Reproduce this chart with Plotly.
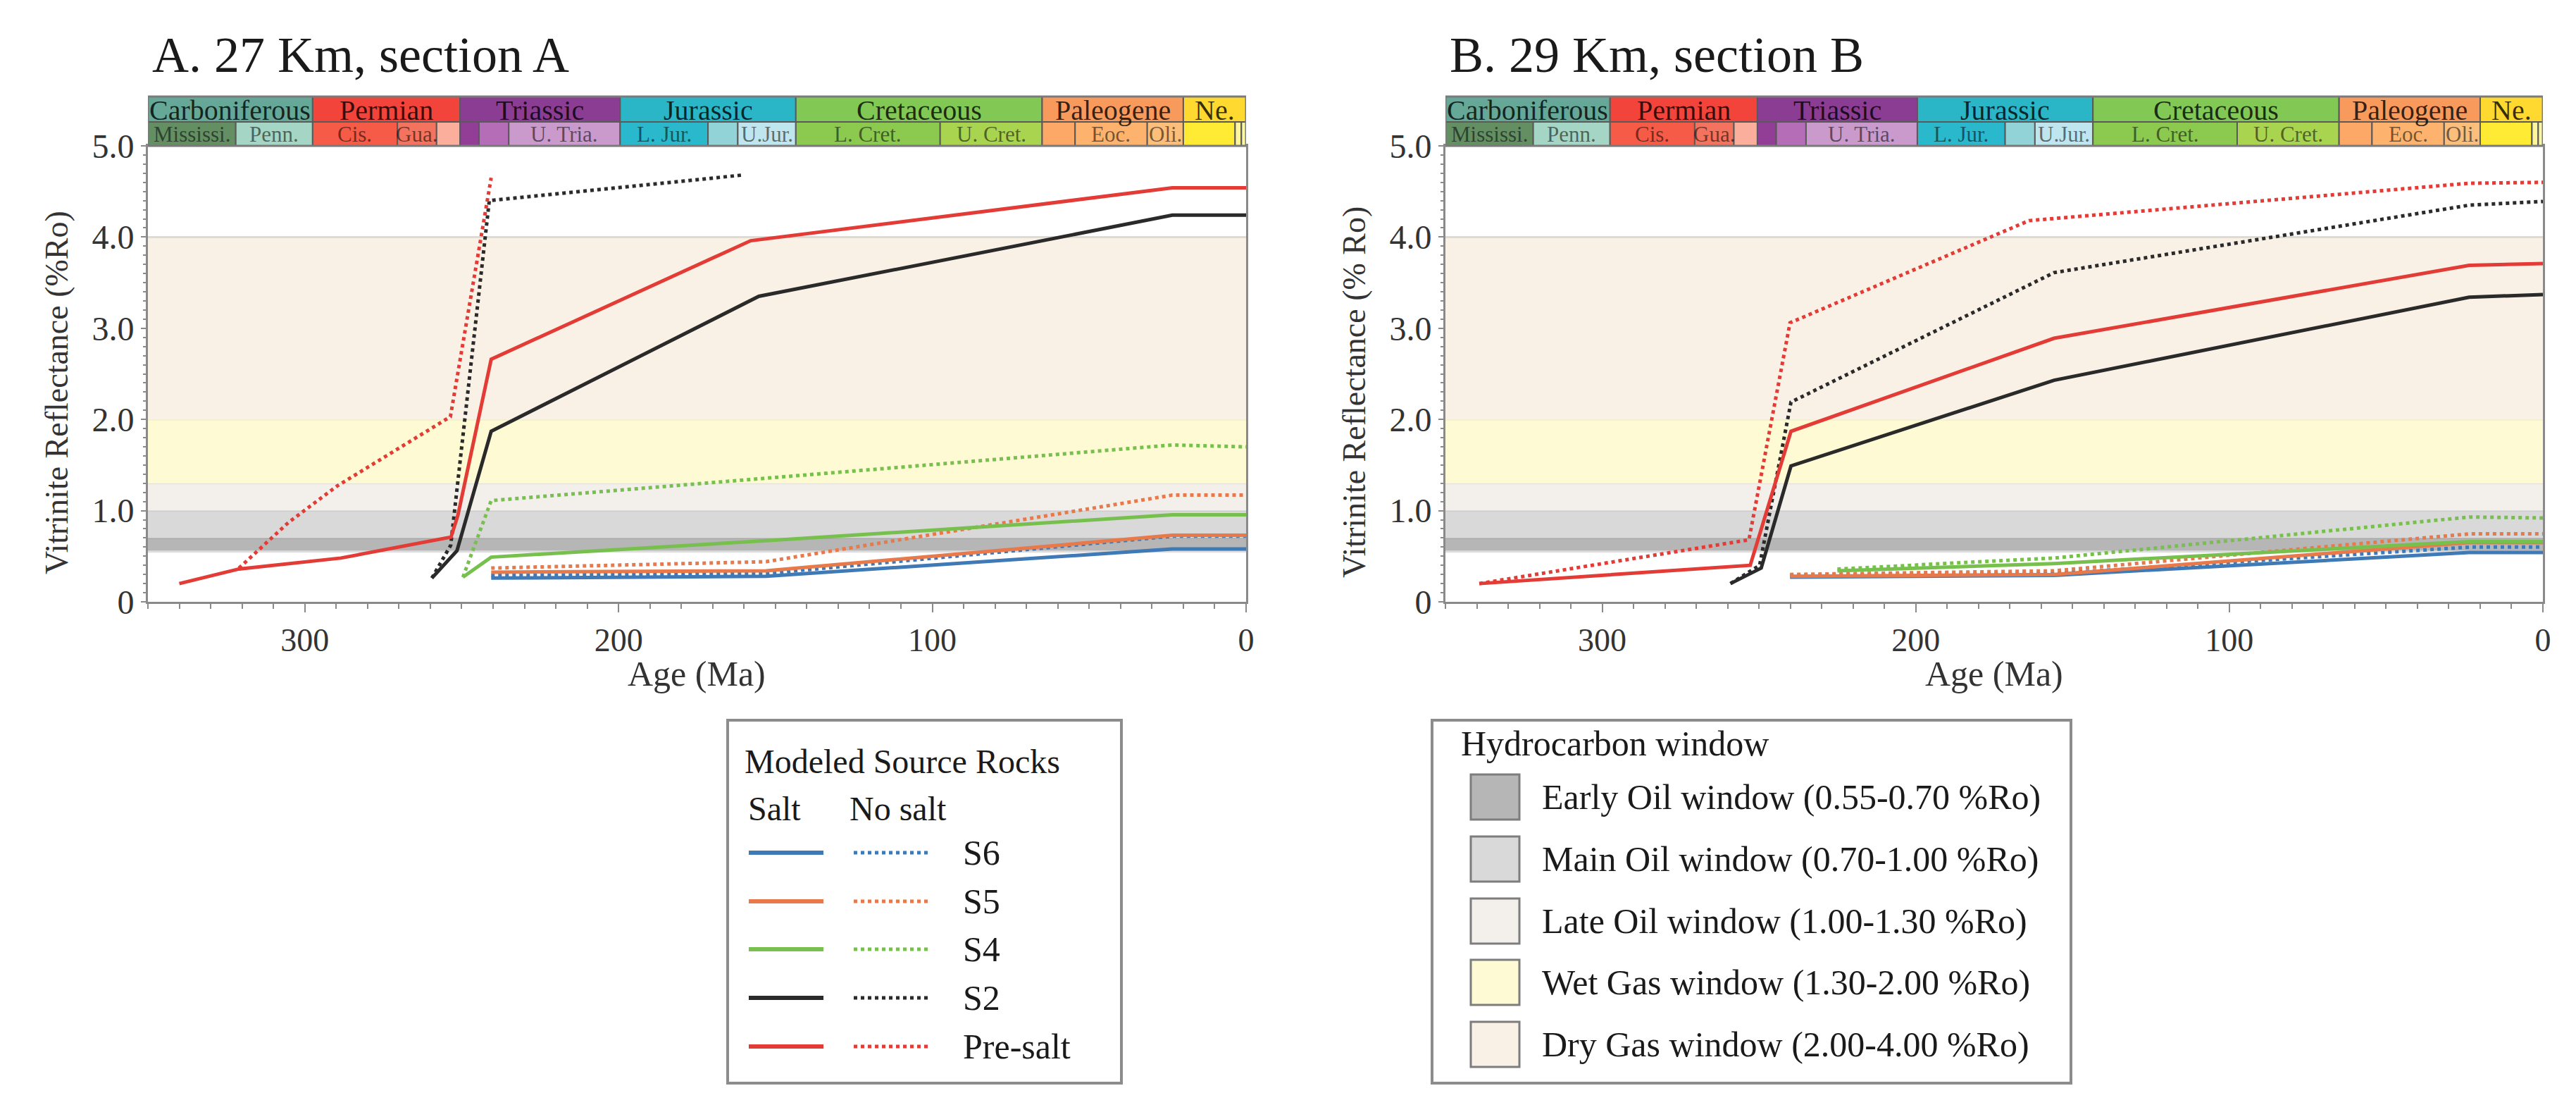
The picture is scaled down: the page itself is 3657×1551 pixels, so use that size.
import plotly.graph_objects as go

# ---------------- DATA ----------------
# Panel A (27 Km, section A) : ages (Ma) and vitrinite reflectance (%Ro)
A_S6_SALT_AGE = [240.6, 153.0, 23.5, 0.0]
A_S6_SALT_RO = [0.26, 0.28, 0.58, 0.58]
A_S6_NOSALT_AGE = [240.6, 153.0, 23.5, 0.0]
A_S6_NOSALT_RO = [0.29, 0.31, 0.72, 0.72]
A_S5_SALT_AGE = [240.6, 153.0, 23.5, 0.0]
A_S5_SALT_RO = [0.325, 0.34, 0.73, 0.73]
A_S5_NOSALT_AGE = [240.6, 153.0, 23.5, 0.0]
A_S5_NOSALT_RO = [0.37, 0.44, 1.17, 1.17]
A_S4_SALT_AGE = [249.6, 240.6, 153.0, 23.5, 0.0]
A_S4_SALT_RO = [0.27, 0.49, 0.67, 0.955, 0.955]
A_S4_NOSALT_AGE = [249.6, 240.6, 155.0, 23.5, 0.0]
A_S4_NOSALT_RO = [0.27, 1.11, 1.35, 1.72, 1.70]
A_S2_SALT_AGE = [259.5, 251.5, 240.6, 155.3, 23.5, 0.0]
A_S2_SALT_RO = [0.26, 0.56, 1.87, 3.35, 4.24, 4.24]
A_S2_NOSALT_AGE = [259.5, 253.5, 241.2, 160.5]
A_S2_NOSALT_RO = [0.26, 0.62, 4.40, 4.68]
A_PRE_SALT_AGE = [340.0, 321.0, 288.5, 253.4, 251.2, 240.6, 157.9, 23.5, 0.0]
A_PRE_SALT_RO = [0.20, 0.36, 0.48, 0.71, 0.95, 2.66, 3.96, 4.54, 4.54]
A_PRE_NOSALT_AGE = [321.0, 305.2, 289.7, 253.6, 240.6]
A_PRE_NOSALT_RO = [0.37, 0.87, 1.27, 2.03, 4.65]

# Panel B (29 Km, section B)
B_S6_SALT_AGE = [240.1, 155.9, 23.5, 0.0]
B_S6_SALT_RO = [0.27, 0.29, 0.54, 0.54]
B_S6_NOSALT_AGE = [240.1, 155.9, 23.5, 0.0]
B_S6_NOSALT_RO = [0.29, 0.31, 0.60, 0.60]
B_S5_SALT_AGE = [240.1, 155.9, 23.5, 0.0]
B_S5_SALT_RO = [0.28, 0.30, 0.65, 0.65]
B_S5_NOSALT_AGE = [240.1, 155.9, 23.5, 0.0]
B_S5_NOSALT_RO = [0.30, 0.34, 0.745, 0.745]
B_S4_SALT_AGE = [225.0, 155.9, 23.5, 0.0]
B_S4_SALT_RO = [0.34, 0.42, 0.66, 0.66]
B_S4_NOSALT_AGE = [225.0, 155.9, 23.5, 0.0]
B_S4_NOSALT_RO = [0.36, 0.48, 0.93, 0.92]
B_S2_SALT_AGE = [259.1, 249.3, 239.8, 155.9, 23.5, 0.0]
B_S2_SALT_RO = [0.20, 0.37, 1.49, 2.43, 3.34, 3.37]
B_S2_NOSALT_AGE = [259.1, 249.8, 239.8, 155.9, 23.5, 0.0]
B_S2_NOSALT_RO = [0.20, 0.40, 2.19, 3.61, 4.35, 4.39]
B_PRE_SALT_AGE = [339.2, 252.8, 239.8, 155.9, 23.5, 0.0]
B_PRE_SALT_RO = [0.20, 0.40, 1.87, 2.89, 3.69, 3.71]
B_PRE_NOSALT_AGE = [339.2, 253.2, 240.1, 163.9, 23.5, 0.0]
B_PRE_NOSALT_RO = [0.20, 0.68, 3.06, 4.18, 4.59, 4.60]

SOURCE_ROCKS = ["S6", "S5", "S4", "S2", "Pre-salt"]
ROCK_COLORS = ["#3f79b6", "#e8794a", "#78c04e", "#2a2a2a", "#e33b36"]

# Hydrocarbon windows (%Ro)
WINDOW_NAMES = ["Early Oil window (0.55-0.70 %Ro)", "Main Oil window (0.70-1.00 %Ro)",
                "Late Oil window (1.00-1.30 %Ro)", "Wet Gas window (1.30-2.00 %Ro)",
                "Dry Gas window (2.00-4.00 %Ro)"]
WINDOW_LOW = [0.55, 0.70, 1.00, 1.30, 2.00]
WINDOW_HIGH = [0.70, 1.00, 1.30, 2.00, 4.00]
WINDOW_COLORS = ["#b6b6b6", "#d9d9d9", "#f3f0eb", "#fefad3", "#faf1e6"]
WINDOW_EDGES = ["#a8a8a8", "#cccccc", "#e6e3de", "#f2eec5", "#dedad4"]

# Geologic time scale (Ma)
PERIOD_NAMES = ["Carboniferous", "Permian", "Triassic", "Jurassic", "Cretaceous", "Paleogene", "Ne."]
PERIOD_START = [359.0, 297.5, 250.5, 199.5, 143.5, 65.0, 20.0]
PERIOD_END = [297.5, 250.5, 199.5, 143.5, 65.0, 20.0, 0.0]
PERIOD_COLORS = ["#66a898", "#f2443a", "#8b3d94", "#2bb6c8", "#82c855", "#f99a5d", "#ffd92f"]
EPOCH_NAMES = ["Mississi.", "Penn.", "Cis.", "Gua.", "", "", "", "U. Tria.", "L. Jur.", "", "U.Jur.",
               "L. Cret.", "U. Cret.", "", "Eoc.", "Oli.", "", "", ""]
EPOCH_START = [359.0, 322.0, 297.5, 270.5, 258.0, 250.5, 244.5, 235.0, 199.5, 171.5, 162.0,
               143.5, 97.5, 65.0, 54.5, 31.5, 20.0, 3.5, 1.5]
EPOCH_END = [322.0, 297.5, 270.5, 258.0, 250.5, 244.5, 235.0, 199.5, 171.5, 162.0, 143.5,
             97.5, 65.0, 54.5, 31.5, 20.0, 3.5, 1.5, 0.0]
EPOCH_COLORS = ["#638f63", "#a5d5c5", "#f65b48", "#f4735f", "#fbae9c", "#923e96", "#b56db8",
                "#c99acb", "#29b8cc", "#92d3d8", "#bfe6ee", "#8bc94f", "#a9d450", "#fda866",
                "#fdb36e", "#fcbf7b", "#ffeb33", "#fff59a", "#faf7a0"]

X_TICKS = [300, 200, 100, 0]
Y_TICKS = [0, 1, 2, 3, 4, 5]
Y_TICKTEXT = ["0", "1.0", "2.0", "3.0", "4.0", "5.0"]
X_MAX = 350.0
Y_MAX = 5.0

PANELS = [
    {"title": "A. 27 Km, section A", "ytitle": "Vitrinite Reflectance (%Ro)",
     "series": [
         (A_S6_SALT_AGE, A_S6_SALT_RO, A_S6_NOSALT_AGE, A_S6_NOSALT_RO),
         (A_S5_SALT_AGE, A_S5_SALT_RO, A_S5_NOSALT_AGE, A_S5_NOSALT_RO),
         (A_S4_SALT_AGE, A_S4_SALT_RO, A_S4_NOSALT_AGE, A_S4_NOSALT_RO),
         (A_S2_SALT_AGE, A_S2_SALT_RO, A_S2_NOSALT_AGE, A_S2_NOSALT_RO),
         (A_PRE_SALT_AGE, A_PRE_SALT_RO, A_PRE_NOSALT_AGE, A_PRE_NOSALT_RO)]},
    {"title": "B. 29 Km, section B", "ytitle": "Vitrinite Reflectance (% Ro)",
     "series": [
         (B_S6_SALT_AGE, B_S6_SALT_RO, B_S6_NOSALT_AGE, B_S6_NOSALT_RO),
         (B_S5_SALT_AGE, B_S5_SALT_RO, B_S5_NOSALT_AGE, B_S5_NOSALT_RO),
         (B_S4_SALT_AGE, B_S4_SALT_RO, B_S4_NOSALT_AGE, B_S4_NOSALT_RO),
         (B_S2_SALT_AGE, B_S2_SALT_RO, B_S2_NOSALT_AGE, B_S2_NOSALT_RO),
         (B_PRE_SALT_AGE, B_PRE_SALT_RO, B_PRE_NOSALT_AGE, B_PRE_NOSALT_RO)]},
]

# ---------------- LAYOUT HELPERS ----------------
W, H = 3657, 1551
OFF = 8  # page body margin of the html page
SERIF = "Liberation Serif, Times New Roman, serif"


def fx(p):
    return (p - OFF) / W


def fy(p):
    return 1 - (p - OFF) / H


PLOT_LEFT = [210, 2052]
PLOT_RIGHT = [1769, 3610]
PLOT_TOP, PLOT_BOTTOM = 207, 854
BAR_TOP, BAR_MID = 137, 173
DOT = "5px,5px"

fig = go.Figure()
shapes = []
annotations = []

for i, panel in enumerate(PANELS):
    xa = "x" if i == 0 else "x2"
    ya = "y" if i == 0 else "y2"
    for k, (sa, sr, na, nr) in enumerate(panel["series"]):
        col = ROCK_COLORS[k]
        fig.add_trace(go.Scatter(x=na, y=nr, mode="lines", xaxis=xa, yaxis=ya,
                                 line=dict(color=col, width=5, dash=DOT),
                                 name=SOURCE_ROCKS[k] + " no salt", showlegend=False))
        fig.add_trace(go.Scatter(x=sa, y=sr, mode="lines", xaxis=xa, yaxis=ya,
                                 line=dict(color=col, width=5),
                                 name=SOURCE_ROCKS[k] + " salt", showlegend=False))
    for lo, hi, c, e in zip(WINDOW_LOW, WINDOW_HIGH, WINDOW_COLORS, WINDOW_EDGES):
        shapes.append(dict(type="rect", xref=xa, yref=ya, x0=X_MAX, x1=0, y0=lo, y1=hi,
                           fillcolor=c, line=dict(width=0), layer="below"))
        shapes.append(dict(type="line", xref=xa, yref=ya, x0=X_MAX, x1=0, y0=hi, y1=hi,
                           line=dict(color=e, width=3), layer="below"))
    shapes.append(dict(type="line", xref=xa, yref=ya, x0=X_MAX, x1=0, y0=WINDOW_LOW[0], y1=WINDOW_LOW[0],
                       line=dict(color="#dddddd", width=3), layer="below"))
    # geologic time bar
    for name, s, e, c in zip(PERIOD_NAMES, PERIOD_START, PERIOD_END, PERIOD_COLORS):
        s = min(s, X_MAX)
        shapes.append(dict(type="rect", xref=xa, yref="paper", x0=s, x1=e,
                           y0=fy(BAR_MID), y1=fy(BAR_TOP), fillcolor=c,
                           line=dict(color="#5a5a5a", width=2)))
        annotations.append(dict(x=(s + e) / 2, y=fy((BAR_TOP + BAR_MID) / 2 + 1), xref=xa, yref="paper",
                                text=name, showarrow=False, xanchor="center", yanchor="middle",
                                font=dict(family=SERIF, size=40, color="rgba(0,0,0,0.78)")))
    for name, s, e, c in zip(EPOCH_NAMES, EPOCH_START, EPOCH_END, EPOCH_COLORS):
        s = min(s, X_MAX)
        shapes.append(dict(type="rect", xref=xa, yref="paper", x0=s, x1=e,
                           y0=fy(PLOT_TOP), y1=fy(BAR_MID), fillcolor=c,
                           line=dict(color="#5a5a5a", width=2)))
        if name:
            annotations.append(dict(x=(s + e) / 2, y=fy((BAR_MID + PLOT_TOP) / 2), xref=xa, yref="paper",
                                    text=name, showarrow=False, xanchor="center", yanchor="middle",
                                    font=dict(family=SERIF, size=31, color="rgba(0,0,0,0.55)")))
    shapes.append(dict(type="rect", xref=xa, yref="paper", x0=X_MAX, x1=0,
                       y0=fy(PLOT_TOP), y1=fy(BAR_TOP), line=dict(color="#7a7a7a", width=3)))
    # titles
    annotations.append(dict(x=fx(PLOT_LEFT[i] + 4), y=fy(78), xref="paper", yref="paper",
                            text=panel["title"], showarrow=False, xanchor="left", yanchor="middle",
                            font=dict(family=SERIF, size=72, color="#1a1a1a")))
    annotations.append(dict(x=fx((PLOT_LEFT[i] + PLOT_RIGHT[i]) / 2), y=fy(956), xref="paper", yref="paper",
                            text="Age (Ma)", showarrow=False, xanchor="center", yanchor="middle",
                            font=dict(family=SERIF, size=50, color="#333333")))
    annotations.append(dict(x=fx(PLOT_LEFT[i] - 130), y=fy(557), xref="paper", yref="paper",
                            text=panel["ytitle"], showarrow=False, textangle=-90,
                            xanchor="center", yanchor="middle",
                            font=dict(family=SERIF, size=46, color="#333333")))

axis_common = dict(showgrid=False, zeroline=False, showline=True, linecolor="#8a8a8a", linewidth=3,
                   ticks="outside", tickcolor="#8a8a8a", tickwidth=2, mirror=True, automargin=False)
for i in range(2):
    sfx = "" if i == 0 else "2"
    fig.update_layout(**{
        "xaxis" + sfx: dict(axis_common, domain=[fx(PLOT_LEFT[i]), fx(PLOT_RIGHT[i])],
                            range=[X_MAX, 0], tickvals=X_TICKS, ticklen=12,
                            anchor="y" + sfx,
                            tickfont=dict(family=SERIF, size=46, color="#333333"),
                            minor=dict(dtick=10, ticklen=7, tickcolor="#8a8a8a", tickwidth=2, ticks="outside")),
        "yaxis" + sfx: dict(axis_common, domain=[fy(PLOT_BOTTOM), fy(PLOT_TOP)],
                            range=[0, Y_MAX], tickvals=Y_TICKS, ticktext=Y_TICKTEXT, ticklen=7,
                            anchor="x" + sfx,
                            tickfont=dict(family=SERIF, size=48, color="#333333"),
                            minor=dict(dtick=0.1, ticklen=4, tickcolor="#8a8a8a", tickwidth=2, ticks="outside")),
    })

# ---------------- LEGEND 1 : Modeled Source Rocks ----------------
shapes.append(dict(type="rect", xref="paper", yref="paper", x0=fx(1033), x1=fx(1592),
                   y0=fy(1537), y1=fy(1022), fillcolor="white",
                   line=dict(color="#8c8c8c", width=4)))
annotations.append(dict(x=fx(1055), y=fy(1080), xref="paper", yref="paper", text="Modeled Source Rocks",
                        showarrow=False, xanchor="left", yanchor="middle",
                        font=dict(family=SERIF, size=48, color="#1a1a1a")))
annotations.append(dict(x=fx(1060), y=fy(1147), xref="paper", yref="paper", text="Salt",
                        showarrow=False, xanchor="left", yanchor="middle",
                        font=dict(family=SERIF, size=48, color="#1a1a1a")))
annotations.append(dict(x=fx(1204), y=fy(1147), xref="paper", yref="paper", text="No salt",
                        showarrow=False, xanchor="left", yanchor="middle",
                        font=dict(family=SERIF, size=48, color="#1a1a1a")))
L1_ROWS = [1210, 1279, 1347, 1416, 1485]
for name, col, ry in zip(SOURCE_ROCKS, ROCK_COLORS, L1_ROWS):
    shapes.append(dict(type="line", xref="paper", yref="paper", x0=fx(1063), x1=fx(1169),
                       y0=fy(ry), y1=fy(ry), line=dict(color=col, width=6)))
    shapes.append(dict(type="line", xref="paper", yref="paper", x0=fx(1212), x1=fx(1319),
                       y0=fy(ry), y1=fy(ry), line=dict(color=col, width=5, dash=DOT)))
    annotations.append(dict(x=fx(1365), y=fy(ry), xref="paper", yref="paper", text=name,
                            showarrow=False, xanchor="left", yanchor="middle",
                            font=dict(family=SERIF, size=50, color="#1a1a1a")))

# ---------------- LEGEND 2 : Hydrocarbon window ----------------
shapes.append(dict(type="rect", xref="paper", yref="paper", x0=fx(2033), x1=fx(2940),
                   y0=fy(1537), y1=fy(1022), fillcolor="white",
                   line=dict(color="#8c8c8c", width=4)))
annotations.append(dict(x=fx(2072), y=fy(1055), xref="paper", yref="paper", text="Hydrocarbon window",
                        showarrow=False, xanchor="left", yanchor="middle",
                        font=dict(family=SERIF, size=50, color="#1a1a1a")))
L2_ROWS = [1131, 1219, 1307, 1394, 1482]
for name, col, ry in zip(WINDOW_NAMES, WINDOW_COLORS, L2_ROWS):
    shapes.append(dict(type="rect", xref="paper", yref="paper", x0=fx(2088), x1=fx(2157),
                       y0=fy(ry + 32), y1=fy(ry - 32), fillcolor=col,
                       line=dict(color="#7d7d7d", width=3)))
    annotations.append(dict(x=fx(2187), y=fy(ry), xref="paper", yref="paper", text=name,
                            showarrow=False, xanchor="left", yanchor="middle",
                            font=dict(family=SERIF, size=50, color="#1a1a1a")))

fig.update_layout(width=W, height=H, margin=dict(l=0, r=0, t=0, b=0, pad=0, autoexpand=False),
                  paper_bgcolor="white", plot_bgcolor="white",
                  showlegend=False, shapes=shapes, annotations=annotations)

fig.write_html("out.html")
